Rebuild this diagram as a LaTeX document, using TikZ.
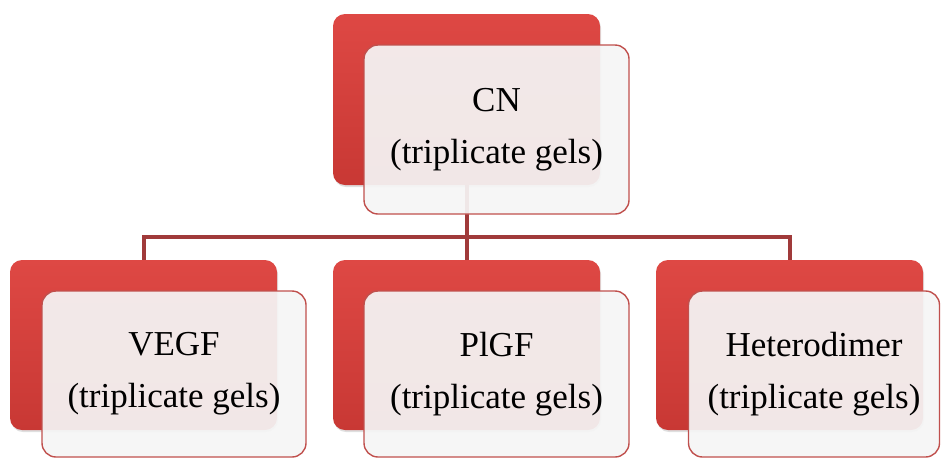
\documentclass[tikz,border=0pt]{standalone}
\usepackage{fontspec}
\setmainfont{Liberation Serif}
\usetikzlibrary{shadows}
\definecolor{redtop}{RGB}{222,72,68}
\definecolor{redbot}{RGB}{200,56,52}
\definecolor{wborder}{RGB}{192,80,77}
\definecolor{wfill}{RGB}{245,245,245}
\definecolor{conncol}{RGB}{160,58,58}
\tikzset{
  redbox/.style={rectangle, rounded corners=12pt, inner sep=0pt,
    top color=redtop, bottom color=redbot, draw=none,
    drop shadow={shadow xshift=1pt, shadow yshift=-2pt, opacity=0.25}},
  whitebox/.style={rectangle, rounded corners=14pt, inner sep=0pt,
    fill=wfill, fill opacity=0.93, text opacity=1, draw=wborder, line width=1.4pt,
    align=center, font=\fontsize{35}{52}\selectfont},
  conn/.style={draw=conncol, line width=4pt},
}
\begin{document}
\begin{tikzpicture}[x=1pt, y=-1pt]
\useasboundingbox (0,0) rectangle (941,459);
% red back boxes
\node[redbox, minimum width=267pt, minimum height=171pt] (r0) at (466.5,99.5) {};
\node[redbox, minimum width=267pt, minimum height=170pt] (r1) at (143.5,345) {};
\node[redbox, minimum width=267pt, minimum height=170pt] (r2) at (466.5,345) {};
\node[redbox, minimum width=267pt, minimum height=170pt] (r3) at (789.5,345) {};
% connectors
\coordinate (j) at (466.5,237);
\draw[conn] (r0.south) -- (j);
\draw[conn] (j) -| (r1.north);
\draw[conn] (j) -- (r2.north);
\draw[conn] (j) -| (r3.north);
% front boxes
\node[whitebox, minimum width=265pt, minimum height=169pt] (w0) at (496.5,129.5) {CN\\(triplicate gels)};
\node[whitebox, minimum width=264pt, minimum height=166pt] (w1) at (174,374) {VEGF\\(triplicate gels)};
\node[whitebox, minimum width=265pt, minimum height=166pt] (w2) at (496.5,374) {PlGF\\(triplicate gels)};
\node[whitebox, minimum width=251pt, minimum height=166pt] (w3) at (814,374) {Heterodimer\\(triplicate gels)};
\end{tikzpicture}
\end{document}
